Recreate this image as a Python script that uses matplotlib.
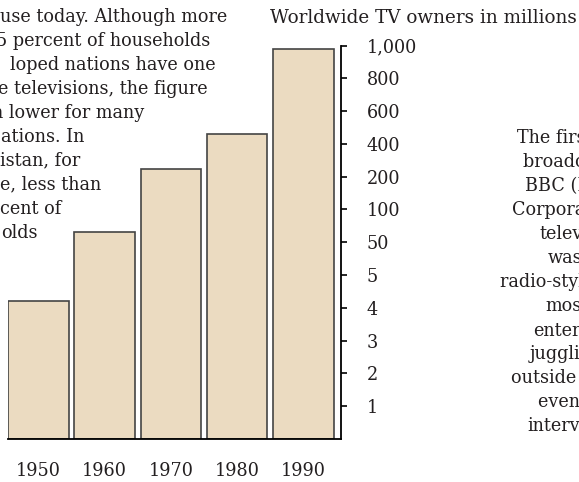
import numpy as np
import matplotlib.pyplot as plt
from matplotlib.ticker import FixedLocator, FixedFormatter

# data: worldwide TV owners (millions)
years = ['1950', '1960', '1970', '1980', '1990']
owners = [4.2, 65, 250, 460, 980]

# broken y scale: each tick gets the same spacing
scale_vals = [0, 1, 2, 3, 4, 5, 50, 100, 200, 400, 600, 800, 1000]
tick_vals = [1, 2, 3, 4, 5, 50, 100, 200, 400, 600, 800, 1000]
tick_labels = ['1', '2', '3', '4', '5', '50', '100', '200', '400', '600', '800', '1,000']

# side text, one entry per line (text, x px, y px)
left_lines = [
    ('use today. Although more', 0.5, 16.5),
    ('5 percent of households', -4.5, 40.5),
    ('loped nations have one', 10, 64.5),
    ('e televisions, the figure', -2, 88.5),
    ('h lower for many', -8, 112.5),
    ('ations. In', 1, 136.5),
    ('istan, for', 0, 160.5),
    ('e, less than', 0, 184.5),
    ('cent of', 0, 208.5),
    ('olds', 1, 232.5),
]
right_lines = [
    ('The first regular', 517, 138),
    ('broadcasts by the', 523, 162),
    ('BBC (British', 525, 186),
    ('Corporation) in 1936,', 512, 210),
    ('television', 540, 234),
    ('was', 548, 258),
    ('radio-style talk,', 500, 282),
    ('mostly', 545, 306),
    ('entertainment,', 533, 330),
    ('juggling acts,', 530, 354),
    ('outside broadcasts', 511, 378),
    ('events and', 538, 402),
    ('interviews.', 527, 426),
]

plt.rcParams['font.family'] = ['DejaVu Serif']
txt_color = '#231f20'
fs = 12.7

W, H = 579, 482
fig = plt.figure(figsize=(W / 100, H / 100), dpi=100)
ax = fig.add_axes([8.3 / W, 43.2 / H, 332.2 / W, 393.1 / H])

pos = np.arange(len(scale_vals))
ax.set_yscale('function',
              functions=(lambda v: np.interp(v, scale_vals, pos),
                         lambda p: np.interp(p, pos, scale_vals)))

x = np.arange(len(years))
ax.bar(x, owners, width=0.913, color='#ebdbc1', edgecolor='#444444', linewidth=1.2)

ax.set_xlim(-0.4565, 4.562)
ax.set_ylim(0, 1000)

for s in ['left', 'top']:
    ax.spines[s].set_visible(False)
for s in ['right', 'bottom']:
    ax.spines[s].set_linewidth(1.3)
    ax.spines[s].set_color('black')

ax.yaxis.tick_right()
ax.yaxis.set_major_locator(FixedLocator(tick_vals))
ax.yaxis.set_major_formatter(FixedFormatter(tick_labels))
ax.yaxis.set_minor_locator(FixedLocator([]))
ax.tick_params(axis='y', direction='out', length=4.5, width=1.2, pad=14.5,
               labelsize=fs, labelcolor=txt_color)
ax.set_xticks(x)
ax.set_xticklabels(years)
ax.tick_params(axis='x', length=0, pad=17, labelsize=fs, labelcolor=txt_color)

fig.text(270.5 / W, 1 - 18 / H, 'Worldwide TV owners in millions', fontsize=13.2,
         color=txt_color, ha='left', va='center')

for t, px, py in left_lines + right_lines:
    fig.text(px / W, 1 - py / H, t, fontsize=fs, color=txt_color,
             ha='left', va='center')

plt.savefig('out.png', dpi=100)
